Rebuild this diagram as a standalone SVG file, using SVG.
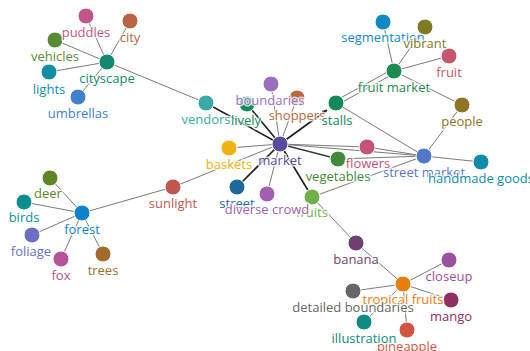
<svg xmlns="http://www.w3.org/2000/svg" width="530" height="351" viewBox="0 0 530 351">
<defs>
<style>
.e{stroke:#7a7a7a;stroke-width:1;fill:none}
.d{stroke:#1e1e1e;stroke-width:1.6;fill:none}
circle{stroke:#fff;stroke-width:1}
text{font-family:"Open Sans","Noto Sans",sans-serif;font-size:13px;text-anchor:middle;paint-order:stroke;stroke:#fff;stroke-width:3px;stroke-opacity:0.75;stroke-linejoin:round}
</style>
<marker id="arr" viewBox="0 0 10 10" refX="10" refY="5" markerWidth="5" markerHeight="5" orient="auto" markerUnits="userSpaceOnUse">
<path d="M0,0L10,5L0,10z" fill="#1e1e1e"/>
</marker>
</defs>
<rect width="530" height="351" fill="#fff"/>
<g id="connectors">
<line class="e" x1="107" y1="62" x2="86" y2="16"/>
<line class="e" x1="107" y1="62" x2="130" y2="21"/>
<line class="e" x1="107" y1="62" x2="55" y2="40"/>
<line class="e" x1="107" y1="62" x2="49" y2="72"/>
<line class="e" x1="107" y1="62" x2="78" y2="97"/>
<line class="e" x1="107" y1="62" x2="206" y2="103"/>
<line class="d" x1="206" y1="103" x2="280" y2="144"/>
<line class="d" x1="280" y1="144" x2="247" y2="104"/>
<line class="e" x1="280" y1="144" x2="271" y2="84"/>
<line class="e" x1="280" y1="144" x2="297" y2="98"/>
<line class="d" x1="280" y1="144" x2="327" y2="110" marker-end="url(#arr)"/>
<line class="e" x1="280" y1="144" x2="229" y2="148"/>
<line class="e" x1="280" y1="144" x2="367" y2="147"/>
<line class="e" x1="280" y1="144" x2="424" y2="156"/>
<line class="d" x1="280" y1="144" x2="338" y2="159" style="stroke:#3a3a3a;stroke-width:1.3"/>
<line class="d" x1="280" y1="144" x2="237" y2="187"/>
<line class="e" x1="280" y1="144" x2="267" y2="194"/>
<line class="d" x1="280" y1="144" x2="312" y2="197"/>
<line class="e" x1="280" y1="144" x2="173" y2="187"/>
<line class="e" x1="173" y1="187" x2="82" y2="213"/>
<line class="e" x1="82" y1="213" x2="50" y2="178"/>
<line class="e" x1="82" y1="213" x2="24" y2="202"/>
<line class="e" x1="82" y1="213" x2="32" y2="235"/>
<line class="e" x1="82" y1="213" x2="61" y2="259"/>
<line class="e" x1="82" y1="213" x2="103" y2="254"/>
<line class="e" x1="335" y1="101" x2="393" y2="69"/>
<line class="e" x1="337" y1="105" x2="395" y2="73"/>
<line class="e" x1="336" y1="103" x2="424" y2="156"/>
<line class="e" x1="394" y1="71" x2="383" y2="22"/>
<line class="e" x1="394" y1="71" x2="425" y2="27"/>
<line class="e" x1="394" y1="71" x2="449" y2="56"/>
<line class="e" x1="394" y1="71" x2="462" y2="105"/>
<line class="e" x1="462" y1="105" x2="424" y2="156"/>
<line class="e" x1="367" y1="147" x2="424" y2="156"/>
<line class="e" x1="338" y1="159" x2="424" y2="156"/>
<line class="e" x1="312" y1="197" x2="424" y2="156"/>
<line class="e" x1="424" y1="156" x2="481" y2="162"/>
<line class="e" x1="312" y1="197" x2="356" y2="243"/>
<line class="e" x1="356" y1="243" x2="403" y2="284"/>
<line class="e" x1="403" y1="284" x2="449" y2="260"/>
<line class="e" x1="403" y1="284" x2="451" y2="300"/>
<line class="e" x1="403" y1="284" x2="353" y2="291"/>
<line class="e" x1="403" y1="284" x2="364" y2="322"/>
<line class="e" x1="403" y1="284" x2="407" y2="330"/>
</g>
<g id="nodes">
<g id="n-puddles"><circle cx="86" cy="16" r="8" fill="#c0568a"/></g>
<g id="n-city"><circle cx="130" cy="21" r="8" fill="#b86545"/></g>
<g id="n-vehicles"><circle cx="55" cy="40" r="8" fill="#568c34"/></g>
<g id="n-cityscape"><circle cx="107" cy="62" r="8" fill="#13896f"/></g>
<g id="n-lights"><circle cx="49" cy="72" r="8" fill="#0e8fa5"/></g>
<g id="n-umbrellas"><circle cx="78" cy="97" r="8" fill="#4080cc"/></g>
<g id="n-vendors"><circle cx="206" cy="103" r="8" fill="#3aaaa8"/></g>
<g id="n-boundaries"><circle cx="271" cy="84" r="8" fill="#9a6fc0"/></g>
<g id="n-shoppers"><circle cx="297" cy="98" r="8" fill="#b8683f"/></g>
<g id="n-lively"><circle cx="247" cy="104" r="8" fill="#0f8a5f"/></g>
<g id="n-stalls"><circle cx="336" cy="103" r="8" fill="#12895a"/></g>
<g id="n-market"><circle cx="280" cy="144" r="8" fill="#5b4a9a"/></g>
<g id="n-baskets"><circle cx="229" cy="148" r="8" fill="#f0b20e"/></g>
<g id="n-flowers"><circle cx="367" cy="147" r="8" fill="#c35479"/></g>
<g id="n-vegetables"><circle cx="338" cy="159" r="8" fill="#3f8a3c"/></g>
<g id="n-street"><circle cx="237" cy="187" r="8" fill="#1d6999"/></g>
<g id="n-diverse-crowd"><circle cx="267" cy="194" r="8" fill="#a25fb2"/></g>
<g id="n-fruits"><circle cx="312" cy="197" r="8" fill="#70b24a"/></g>
<g id="n-sunlight"><circle cx="173" cy="187" r="8" fill="#c0574f"/></g>
<g id="n-segmentation"><circle cx="383" cy="22" r="8" fill="#0f8ac4"/></g>
<g id="n-vibrant"><circle cx="425" cy="27" r="8" fill="#807a22"/></g>
<g id="n-fruit"><circle cx="449" cy="56" r="8" fill="#c5566e"/></g>
<g id="n-fruit-market"><circle cx="394" cy="71" r="8" fill="#1d8a4f"/></g>
<g id="n-people"><circle cx="462" cy="105" r="8" fill="#8f7425"/></g>
<g id="n-street-market"><circle cx="424" cy="156" r="8" fill="#5078c8"/></g>
<g id="n-handmade-goods"><circle cx="481" cy="162" r="8" fill="#0e8ba8"/></g>
<g id="n-deer"><circle cx="50" cy="178" r="8" fill="#618429"/></g>
<g id="n-birds"><circle cx="24" cy="202" r="8" fill="#0e8e93"/></g>
<g id="n-forest"><circle cx="82" cy="213" r="8" fill="#0a82cc"/></g>
<g id="n-foliage"><circle cx="32" cy="235" r="8" fill="#6a70c4"/></g>
<g id="n-fox"><circle cx="61" cy="259" r="8" fill="#b5529a"/></g>
<g id="n-trees"><circle cx="103" cy="254" r="8" fill="#a36b2b"/></g>
<g id="n-banana"><circle cx="356" cy="243" r="8" fill="#6f3f72"/></g>
<g id="n-closeup"><circle cx="449" cy="260" r="8" fill="#9b50a0"/></g>
<g id="n-tropical-fruits"><circle cx="403" cy="284" r="8" fill="#e67e0a"/></g>
<g id="n-detailed-boundaries"><circle cx="353" cy="291" r="8" fill="#666666"/></g>
<g id="n-mango"><circle cx="451" cy="300" r="8" fill="#8e2e62"/></g>
<g id="n-illustration"><circle cx="364" cy="322" r="8" fill="#0e8c80"/></g>
<g id="n-pineapple"><circle cx="407" cy="330" r="8" fill="#d2533f"/></g>
</g>
<g id="labels">
<text x="86" y="37" fill="#c0568a">puddles</text>
<text x="130" y="42" fill="#b86545">city</text>
<text x="55" y="61" fill="#568c34">vehicles</text>
<text x="107" y="83" fill="#13896f">cityscape</text>
<text x="49" y="94" fill="#0e8fa5">lights</text>
<text x="78" y="118" fill="#4080cc">umbrellas</text>
<text x="206" y="124" fill="#3aaaa8">vendors</text>
<text x="270" y="105" fill="#9a6fc0">boundaries</text>
<text x="297" y="120" fill="#b8683f">shoppers</text>
<text x="246" y="125" fill="#0f8a5f">lively</text>
<text x="337" y="125" fill="#12895a">stalls</text>
<text x="280" y="165" fill="#5b4a9a">market</text>
<text x="229" y="169" fill="#f0b20e">baskets</text>
<text x="368" y="168" fill="#c35479">flowers</text>
<text x="338" y="181" fill="#3f8a3c">vegetables</text>
<text x="173" y="208" fill="#c0574f">sunlight</text>
<text x="383" y="42" fill="#0f8ac4">segmentation</text>
<text x="425" y="48" fill="#807a22">vibrant</text>
<text x="449" y="77" fill="#c5566e">fruit</text>
<text x="394" y="92" fill="#1d8a4f">fruit market</text>
<text x="462" y="126" fill="#8f7425">people</text>
<text x="424" y="177" fill="#5078c8">street market</text>
<text x="481" y="183" fill="#0e8ba8">handmade goods</text>
<text x="312" y="217" fill="#70b24a">fruits</text>
<text x="237" y="208" fill="#1d6999">street</text>
<text x="267" y="214" fill="#a25fb2">diverse crowd</text>
<text x="48" y="198" fill="#618429">deer</text>
<text x="24" y="222" fill="#0e8e93">birds</text>
<text x="82" y="234" fill="#0a82cc">forest</text>
<text x="31" y="256" fill="#6a70c4">foliage</text>
<text x="61" y="280" fill="#b5529a">fox</text>
<text x="103" y="275" fill="#a36b2b">trees</text>
<text x="356" y="264" fill="#6f3f72">banana</text>
<text x="449" y="281" fill="#9b50a0">closeup</text>
<text x="403" y="304" fill="#e67e0a">tropical fruits</text>
<text x="353" y="312" fill="#666666">detailed boundaries</text>
<text x="451" y="321" fill="#8e2e62">mango</text>
<text x="407" y="351" fill="#d2533f">pineapple</text>
<text x="364" y="343" fill="#0e8c80">illustration</text>
</g>
</svg>
